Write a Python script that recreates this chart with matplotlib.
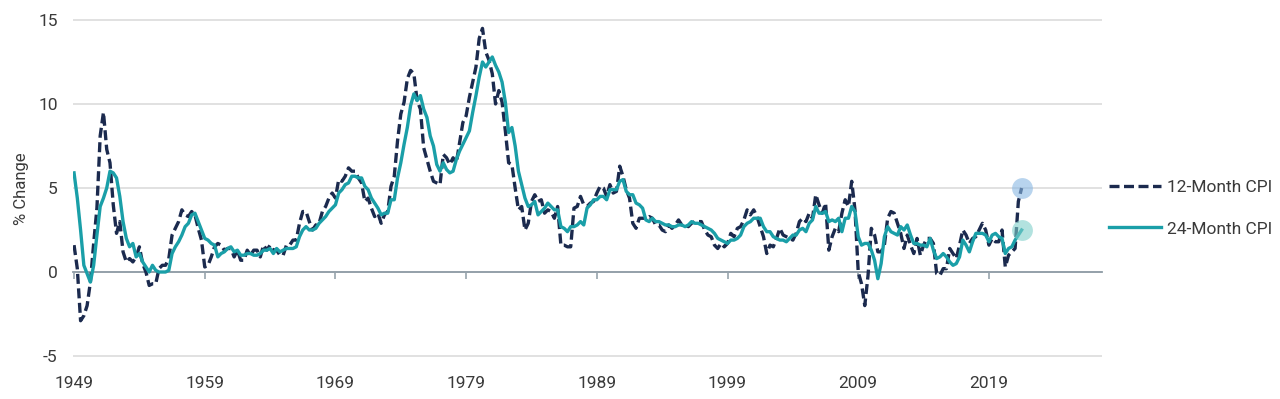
import matplotlib
matplotlib.use("Agg")
import matplotlib.pyplot as plt
import numpy as np

# quarterly readings (Jan, Apr, Jul, Oct) from Jan 1949 to Jul 2021, % change
cpi_12m = [
    1.6, 0.2, -2.9, -2.6,  -2.0, -0.6, 1.7, 3.8,  8.1, 9.5, 7.3, 6.5,  4.0, 2.3, 3.0, 1.2,
    0.6, 0.8, 0.6, 0.9,  1.5, 0.5, 0.0, -0.8,  -0.7, -0.7, 0.2, 0.4,  0.4, 0.8, 2.2, 2.6,
    3.0, 3.7, 3.4, 3.3,  3.6, 3.4, 2.6, 1.9,  0.3, 0.4, 0.9, 1.5,  1.7, 1.6, 1.3, 1.4,
    1.4, 0.9, 1.3, 0.7,  0.7, 1.3, 1.0, 1.3,  1.3, 0.9, 1.6, 1.3,  1.6, 1.3, 1.3, 1.0,
    1.0, 1.6, 1.6, 1.9,  1.9, 2.9, 3.6, 3.6,  3.0, 2.5, 2.8, 2.9,  3.6, 3.9, 4.4, 4.7,
    4.4, 5.5, 5.4, 5.7,  6.2, 6.0, 6.0, 5.6,  5.3, 4.2, 4.4, 3.8,  3.3, 3.5, 2.9, 3.4,
    3.6, 5.1, 5.7, 7.8,  9.4, 10.1, 11.5, 12.0,  11.8, 10.2, 9.7, 7.4,  6.7, 6.0, 5.4, 5.3,
    5.2, 7.0, 6.8, 6.4,  6.8, 6.5, 7.7, 8.9,  9.3, 10.4, 11.3, 12.2,  13.9, 14.5, 13.1, 12.6,
    11.8, 10.0, 10.8, 10.1,  8.4, 6.5, 6.4, 5.0,  3.7, 3.9, 2.5, 2.9,  4.2, 4.6, 4.2, 4.3,
    3.5, 3.7, 3.6, 3.2,  3.9, 1.6, 1.6, 1.5,  1.5, 3.8, 3.9, 4.5,  4.0, 3.9, 4.1, 4.2,
    4.7, 5.1, 5.0, 4.5,  5.2, 4.7, 4.8, 6.3,  5.7, 4.9, 4.4, 2.9,  2.6, 3.2, 3.2, 3.2,
    3.3, 3.2, 2.8, 2.8,  2.5, 2.4, 2.8, 2.6,  2.8, 3.1, 2.8, 2.8,  2.7, 2.9, 3.0, 3.0,
    3.0, 2.5, 2.2, 2.1,  1.6, 1.4, 1.7, 1.5,  1.7, 2.3, 2.1, 2.6,  2.7, 3.1, 3.7, 3.4,
    3.7, 3.3, 2.7, 2.1,  1.1, 1.6, 1.5, 2.0,  2.6, 2.2, 2.1, 2.0,  1.9, 2.3, 3.0, 3.2,
    3.0, 3.5, 3.2, 4.6,  4.0, 3.5, 4.1, 1.3,  2.1, 2.6, 2.4, 3.5,  4.3, 3.9, 5.4, 3.7,
    0.0, -0.7, -2.0, -0.2,  2.6, 2.2, 1.2, 1.2,  1.6, 3.2, 3.6, 3.5,  2.9, 2.3, 1.4, 2.2,
    1.6, 1.1, 2.0, 1.0,  1.6, 2.0, 2.0, 1.7,  -0.1, -0.2, 0.2, 0.2,  1.4, 1.1, 0.8, 1.6,
    2.5, 2.2, 1.7, 2.0,  2.1, 2.5, 2.9, 2.5,  1.6, 2.0, 1.8, 1.8,  2.5, 0.3, 1.0, 1.2,
    1.4, 4.2, 5.0,
]

cpi_24m = [
    5.9, 4.4, 2.5, 0.4,  -0.1, -0.6, 0.4, 2.2,  3.9, 4.4, 5.0, 6.0,  5.9, 5.6, 4.5, 3.0,
    2.0, 1.5, 1.7, 0.9,  1.1, 0.6, 0.3, 0.0,  0.4, 0.1, 0.0, 0.0,  0.0, 0.1, 1.1, 1.5,
    1.8, 2.2, 2.7, 2.9,  3.4, 3.5, 3.0, 2.5,  2.0, 1.9, 1.7, 1.6,  0.9, 1.1, 1.2, 1.4,
    1.5, 1.2, 1.3, 1.0,  1.0, 1.1, 1.1, 1.0,  1.0, 1.1, 1.3, 1.3,  1.4, 1.1, 1.4, 1.2,
    1.3, 1.4, 1.4, 1.4,  1.5, 2.1, 2.5, 2.7,  2.5, 2.5, 2.6, 2.9,  3.1, 3.3, 3.6, 3.8,
    4.0, 4.7, 4.9, 5.2,  5.3, 5.7, 5.7, 5.6,  5.6, 5.1, 4.9, 4.4,  4.1, 3.8, 3.4, 3.5,
    3.5, 4.3, 4.3, 5.6,  6.5, 7.6, 8.6, 9.9,  10.6, 10.2, 10.5, 9.7,  9.2, 8.1, 7.5, 6.4,
    6.0, 6.5, 6.1, 5.9,  6.0, 6.7, 7.2, 7.6,  8.0, 8.4, 9.5, 10.5,  11.6, 12.5, 12.2, 12.5,
    12.8, 12.3, 11.9, 11.3,  10.1, 8.3, 8.6, 7.5,  6.0, 5.2, 4.4, 3.9,  4.0, 4.2, 3.4, 3.6,
    3.8, 4.1, 3.9, 3.7,  3.7, 2.7, 2.6, 2.4,  2.7, 2.7, 2.8, 3.0,  2.8, 3.8, 4.0, 4.3,
    4.3, 4.5, 4.5, 4.3,  4.9, 4.9, 4.9, 5.4,  5.5, 4.8, 4.6, 4.6,  4.1, 4.0, 3.8, 3.1,
    3.0, 3.2, 3.0, 3.0,  2.9, 2.8, 2.8, 2.7,  2.7, 2.8, 2.8, 2.7,  2.8, 3.0, 2.9, 2.9,
    2.8, 2.7, 2.6, 2.5,  2.3, 2.0, 1.9, 1.8,  1.7, 1.9, 1.9, 2.0,  2.2, 2.7, 2.9, 3.0,
    3.2, 3.2, 3.2, 2.7,  2.4, 2.4, 2.1, 2.0,  1.9, 1.9, 1.8, 2.0,  2.2, 2.2, 2.5, 2.6,
    2.4, 2.9, 3.1, 3.9,  3.5, 3.5, 3.6, 3.0,  3.1, 3.0, 3.2, 2.4,  3.2, 3.2, 3.9, 3.6,
    2.1, 1.6, 1.7, 1.7,  1.3, 0.7, -0.4, 0.5,  2.1, 2.7, 2.4, 2.3,  2.2, 2.7, 2.5, 2.8,
    2.2, 1.7, 1.7, 1.6,  1.6, 1.5, 2.0, 1.3,  0.8, 0.9, 1.1, 0.9,  0.6, 0.4, 0.5, 0.9,
    1.9, 1.6, 1.2, 1.8,  2.3, 2.3, 2.3, 2.2,  1.8, 2.2, 2.3, 2.1,  2.0, 1.1, 1.4, 1.5,
    1.9, 2.2, 2.5,
]

start_year = 1949
tick_years = [1949, 1959, 1969, 1979, 1989, 1999, 2009, 2019]
y_ticks = [-5, 0, 5, 10, 15]
labels = ["12-Month CPI", "24-Month CPI"]

NAVY = "#1b2a4e"
TEAL = "#1a9fa8"
TEXT = "#3a3a3a"
ZERO = "#8e9ca6"
GRID = "#dedede"


def main():
    plt.rcParams["font.family"] = ["Roboto", "DejaVu Sans"]

    years = start_year + np.arange(len(cpi_12m)) / 4.0

    fig = plt.figure(figsize=(12.8, 3.99), dpi=100)
    ax = fig.add_axes([73 / 1280, 1 - 357.7 / 399, 1029 / 1280, 339.4 / 399])

    ax.plot(years, cpi_12m, color=NAVY, lw=2.4, dashes=(3, 1.35),
            label=labels[0], zorder=3)
    ax.plot(years, cpi_24m, color=TEAL, lw=2.4, label=labels[1], zorder=4)

    # end-point markers, drawn translucent over the lines
    ax.plot(years[-1], cpi_12m[-1], "o", ms=15, color="#8ab8e3", alpha=0.6,
            mec="none", zorder=5)
    ax.plot(years[-1], cpi_24m[-1], "o", ms=15, color="#7fcfca", alpha=0.6,
            mec="none", zorder=5)

    ax.set_xlim(1948.92, 2027.65)
    ax.set_ylim(-5.1, 15.1)

    ax.set_yticks(y_ticks)
    ax.set_yticklabels([str(v) for v in y_ticks])
    ax.yaxis.grid(True, color=GRID, lw=1.3)
    ax.set_axisbelow(True)
    ax.tick_params(axis="y", length=0, pad=11, labelsize=12.5, labelcolor=TEXT)

    for side in ["left", "right", "top"]:
        ax.spines[side].set_visible(False)
    ax.spines["bottom"].set_position(("data", 0))
    ax.spines["bottom"].set_color(ZERO)
    ax.spines["bottom"].set_linewidth(1.3)
    ax.spines["bottom"].set_zorder(1)

    ax.set_xticks(tick_years)
    ax.tick_params(axis="x", length=5, width=1.1, color=ZERO, labelbottom=False)

    sec = ax.secondary_xaxis(0)
    sec.set_xticks(tick_years)
    sec.set_xticklabels([str(y) for y in tick_years])
    sec.tick_params(length=0, pad=13, labelsize=12.5, labelcolor=TEXT)
    sec.spines["bottom"].set_visible(False)

    fig.text(22 / 1280, 1 - 189 / 399, "% Change", rotation=90, ha="center",
             va="center", fontsize=12, color=TEXT)

    ax.legend(loc="center left", bbox_to_anchor=(1.007, 0.44), frameon=False,
              fontsize=12.5, handlelength=3.0, handletextpad=0.35,
              labelspacing=1.5, borderpad=0, borderaxespad=0, labelcolor=TEXT)

    fig.savefig("out.png", dpi=100)


if __name__ == "__main__":
    main()
